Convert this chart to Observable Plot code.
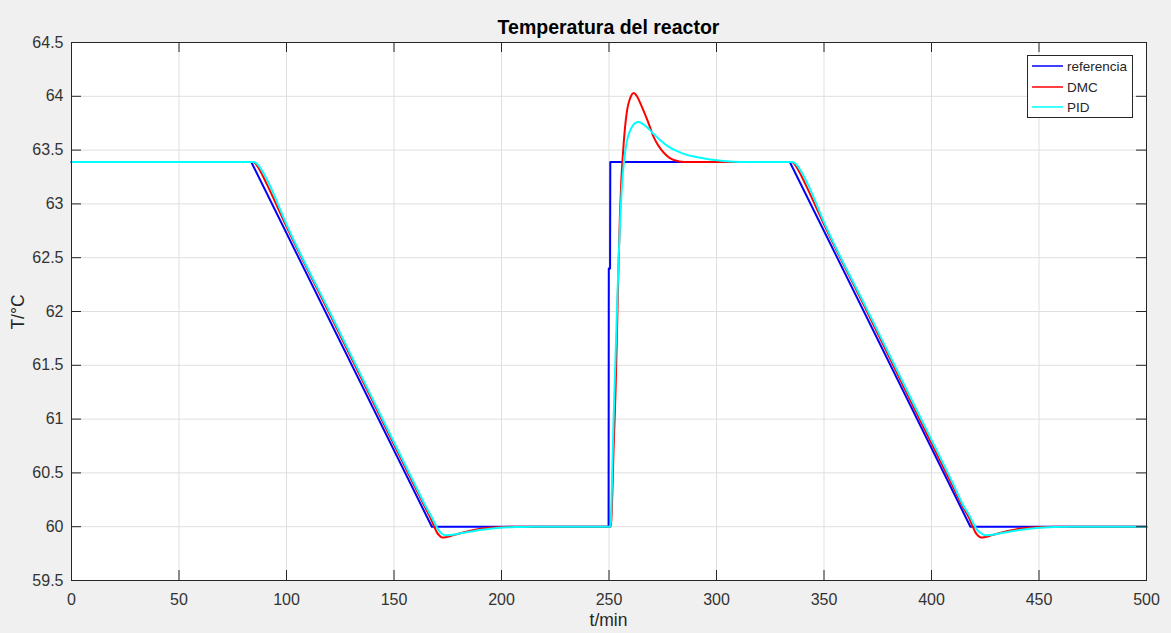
<!DOCTYPE html>
<html>
<head>
<meta charset="utf-8">
<script src="https://cdn.jsdelivr.net/npm/d3@7"></script>
<script src="https://cdn.jsdelivr.net/npm/@observablehq/plot@0.6"></script>
<style>
  html, body { margin: 0; padding: 0; background: #f0f0f0; }
  #wrap { position: relative; width: 1171px; height: 633px; background: #f0f0f0; overflow: hidden;
          font-family: "Liberation Sans", Arial, Helvetica, sans-serif; }
  #title { position: absolute; left: 71px; width: 1075px; top: 16px; text-align: center;
           font-weight: bold; font-size: 19.5px; color: #000; }
  #xlabel { position: absolute; left: 71px; width: 1075px; top: 610px; text-align: center;
            font-size: 17.5px; color: #262626; }
  #ylabel { position: absolute; left: 18px; top: 312px; transform: translate(-50%, -50%) rotate(-90deg);
            font-size: 17.5px; color: #262626; white-space: nowrap; }
  #legend { position: absolute; left: 1027px; top: 55px; width: 104px; height: 61px; background: #fff;
            border: 1px solid #262626; font-size: 13.5px; color: #262626; }
  .row { position: absolute; left: 4px; height: 20px; display: flex; align-items: center; }
  .row svg { margin-right: 4px; }
</style>
</head>
<body>
<div id="wrap">
  <div id="chart"></div>
  <div id="title">Temperatura del reactor</div>
  <div id="xlabel">t/min</div>
  <div id="ylabel">T/°C</div>
  <div id="legend"></div>
</div>
<script>
// ---- data ----
const refT = [0, 83.6, 167.6, 249.8, 249.9, 250.5, 250.6, 334.1, 418.1, 500];
const refV = [63.39, 63.39, 60, 60, 62.4, 62.4, 63.39, 63.39, 60, 60];

const dmcT = [0, 84.3, 85.5, 87, 89, 92, 100, 120, 140, 160, 165, 167, 168.5, 170, 171.2, 172.4, 174, 176, 180, 185, 191, 198, 207, 250.9,
  251.3, 251.7, 252.1, 252.6, 253.1, 253.6, 254.1, 254.6, 255.1, 255.7, 256.5, 257.4, 258.4, 259.8, 261.5, 263, 264.7, 266.2, 267.8, 269.3, 270.8, 273, 275.5, 278, 280.5, 285, 334.8,
  336, 337.5, 339.5, 342.5, 350, 370, 390, 410, 415, 417.5, 419, 420.5, 421.7, 423, 424.5, 426.5, 430.5, 435.5, 441.5, 448.5, 457.5, 500];
const dmcV = [63.39, 63.39, 63.377, 63.335, 63.26, 63.135, 62.79, 61.98, 61.17, 60.36, 60.16, 60.08, 60.01, 59.945, 59.915, 59.90, 59.902, 59.912, 59.935, 59.96, 59.983, 59.995, 60, 60,
  60.15, 60.4, 60.7, 60.98, 61.3, 61.7, 62.15, 62.55, 62.9, 63.2, 63.47, 63.7, 63.87, 63.98, 64.03, 64.0, 63.93, 63.86, 63.78, 63.70, 63.62, 63.54, 63.475, 63.43, 63.405, 63.39, 63.39,
  63.377, 63.335, 63.26, 63.135, 62.81, 62.0, 61.18, 60.37, 60.17, 60.08, 60.01, 59.945, 59.915, 59.90, 59.902, 59.912, 59.935, 59.96, 59.983, 59.995, 60, 60];

const pidT = [0, 84.7, 86, 87.5, 89.5, 92.5, 100, 120, 140, 160, 165, 167.5, 169, 170.5, 172, 174, 176, 180, 185, 191, 198, 207.5, 215, 250.7,
  251, 251.5, 252, 252.6, 253.3, 254, 254.6, 255.3, 256.1, 257, 258.4, 259.6, 260.8, 262.2, 263.7, 265.5, 267.8, 270.8, 274, 277.5, 281.7, 285.5, 289.5, 295, 300.3, 311, 335.2,
  336.5, 338, 340, 343, 350, 370, 390, 410, 415, 418, 419.5, 421, 423, 425, 427, 431, 436, 442, 449, 457, 465, 500];
const pidV = [63.39, 63.39, 63.378, 63.345, 63.28, 63.16, 62.81, 62.0, 61.19, 60.38, 60.18, 60.09, 60.03, 59.975, 59.94, 59.92, 59.922, 59.935, 59.953, 59.972, 59.988, 59.997, 60, 60,
  60.1, 60.5, 60.9, 61.3, 61.75, 62.2, 62.55, 62.9, 63.19, 63.4, 63.59, 63.67, 63.72, 63.75, 63.76, 63.745, 63.71, 63.65, 63.59, 63.535, 63.49, 63.46, 63.44, 63.42, 63.405, 63.39, 63.39,
  63.378, 63.345, 63.28, 63.16, 62.83, 62.02, 61.21, 60.40, 60.19, 60.09, 60.03, 59.975, 59.94, 59.92, 59.922, 59.935, 59.953, 59.972, 59.988, 59.997, 60, 60];

const xTicks = [0, 50, 100, 150, 200, 250, 300, 350, 400, 450, 500];
const yTicks = [59.5, 60, 60.5, 61, 61.5, 62, 62.5, 63, 63.5, 64, 64.5];

const seriesNames = ["referencia", "DMC", "PID"];
const seriesColors = ["#0000ff", "#ff0000", "#00ffff"];

// ---- build tables ----
const toRows = (T, V) => T.map((t, i) => ({t, v: V[i]}));
const refRows = toRows(refT, refV);
const dmcRows = toRows(dmcT, dmcV);
const pidRows = toRows(pidT, pidV);

const W = 1171, H = 633, mL = 71, mR = 25, mT = 42, mB = 53;
const fw = W - mL - mR, fh = H - mT - mB, tl = 10;

const chart = Plot.plot({
  width: W, height: H,
  marginLeft: mL, marginRight: mR, marginTop: mT, marginBottom: mB,
  style: {background: "transparent", fontFamily: "'Liberation Sans', Arial, Helvetica, sans-serif", fontSize: "16px", color: "#333"},
  x: {domain: [0, 500]},
  y: {domain: [59.5, 64.5]},
  marks: [
    Plot.frame({fill: "white", stroke: null}),
    Plot.gridX(xTicks, {stroke: "#dfdfdf", strokeOpacity: 1}),
    Plot.gridY(yTicks, {stroke: "#dfdfdf", strokeOpacity: 1}),
    Plot.line(refRows, {x: "t", y: "v", stroke: seriesColors[0], strokeWidth: 2}),
    Plot.line(dmcRows, {x: "t", y: "v", stroke: seriesColors[1], strokeWidth: 2, curve: "monotone-x"}),
    Plot.line(pidRows, {x: "t", y: "v", stroke: seriesColors[2], strokeWidth: 2, curve: "monotone-x"}),
    Plot.tickX(xTicks, {x: d => d, stroke: "#262626", insetTop: fh - tl}),
    Plot.tickX(xTicks, {x: d => d, stroke: "#262626", insetBottom: fh - tl}),
    Plot.tickY(yTicks, {y: d => d, stroke: "#262626", insetRight: fw - tl}),
    Plot.tickY(yTicks, {y: d => d, stroke: "#262626", insetLeft: fw - tl}),
    Plot.frame({stroke: "#262626", strokeOpacity: 1}),
    Plot.axisX(xTicks, {tickSize: 0, tickPadding: 13, label: null, tickFormat: d => String(d), fill: "#333"}),
    Plot.axisY(yTicks, {tickSize: 0, tickPadding: 8, label: null, tickFormat: d => String(d), fill: "#333"})
  ]
});
document.getElementById("chart").appendChild(chart);

// ---- legend ----
const legend = document.getElementById("legend");
const rowTops = [0, 21, 41];
seriesNames.forEach((name, i) => {
  const row = document.createElement("div");
  row.className = "row";
  row.style.top = rowTops[i] + "px";
  row.innerHTML = `<svg width="31" height="4"><line x1="0" x2="31" y1="2" y2="2" stroke="${seriesColors[i]}" stroke-width="1.5"/></svg><span>${name}</span>`;
  legend.appendChild(row);
});
</script>
</body>
</html>
